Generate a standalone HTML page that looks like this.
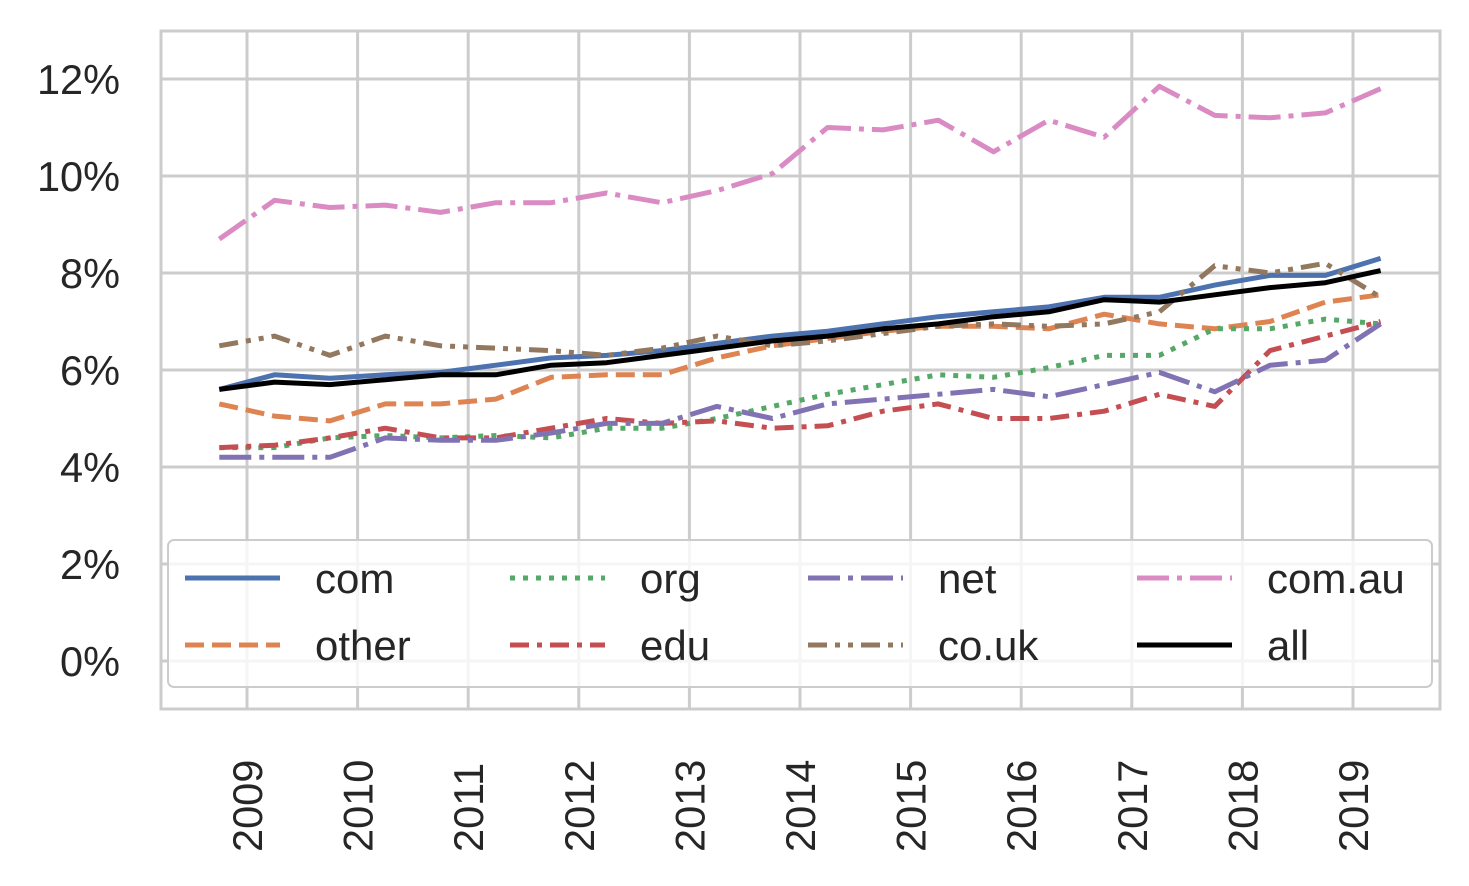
<!DOCTYPE html>
<html><head><meta charset="utf-8"><style>
body{margin:0;background:#fff}
svg text{font-family:"Liberation Sans",sans-serif;fill:#262626}
</style></head><body>
<svg id="chart" width="1469" height="881" xmlns="http://www.w3.org/2000/svg">
<g id="grid"></g>
<g id="series"></g>
<rect x="161" y="31" width="1279" height="678" fill="none" stroke="#cccccc" stroke-width="3"/>
<g id="ticks"></g>
<g id="legend"></g>
</svg>
<script>
const xValues=[2008.75,2009.25,2009.75,2010.25,2010.75,2011.25,2011.75,2012.25,2012.75,2013.25,2013.75,2014.25,2014.75,2015.25,2015.75,2016.25,2016.75,2017.25,2017.75,2018.25,2018.75,2019.25];
const xTicks=[2009,2010,2011,2012,2013,2014,2015,2016,2017,2018,2019];
const yTicks=[0,2,4,6,8,10,12];
const seriesNames=["com","other","org","edu","net","co.uk","com.au","all"];
const com=[5.6,5.9,5.83,5.9,5.95,6.1,6.25,6.3,6.4,6.55,6.7,6.8,6.95,7.1,7.2,7.3,7.5,7.5,7.75,7.95,7.95,8.3];
const other=[5.3,5.05,4.95,5.3,5.3,5.4,5.85,5.9,5.9,6.25,6.5,6.65,6.8,6.9,6.9,6.85,7.15,6.95,6.85,7.0,7.4,7.55];
const org=[4.4,4.4,4.6,4.65,4.6,4.65,4.6,4.8,4.8,5.0,5.25,5.5,5.7,5.9,5.85,6.05,6.3,6.3,6.85,6.85,7.05,6.95];
const edu=[4.4,4.45,4.6,4.8,4.6,4.6,4.8,5.0,4.9,4.95,4.8,4.85,5.15,5.3,5.0,5.0,5.15,5.5,5.25,6.4,6.7,7.0];
const net=[4.2,4.2,4.2,4.6,4.55,4.55,4.7,4.9,4.9,5.25,5.0,5.3,5.4,5.5,5.6,5.45,5.7,5.95,5.55,6.1,6.2,6.95];
const couk=[6.5,6.7,6.3,6.7,6.5,6.45,6.4,6.3,6.45,6.7,6.5,6.6,6.75,6.9,6.95,6.9,6.95,7.2,8.15,8.0,8.2,7.5];
const comau=[8.7,9.5,9.35,9.4,9.25,9.45,9.45,9.65,9.45,9.7,10.05,11.0,10.95,11.15,10.5,11.15,10.8,11.85,11.25,11.2,11.3,11.8];
const all=[5.6,5.75,5.7,5.8,5.9,5.9,6.1,6.15,6.3,6.45,6.6,6.7,6.85,6.95,7.1,7.2,7.45,7.4,7.55,7.7,7.8,8.05];

const NS="http://www.w3.org/2000/svg";
function X(v){return 247+(v-2009)*110.6;}
function Y(v){return 661-v*48.5;}
function mk(tag,parent,attrs){const e=document.createElementNS(NS,tag);for(const k in attrs)e.setAttribute(k,attrs[k]);parent.appendChild(e);return e;}
const grid=document.getElementById('grid'),ticks=document.getElementById('ticks'),sg=document.getElementById('series'),lg=document.getElementById('legend');
xTicks.forEach(t=>{
 const l=mk('line',grid,{x1:X(t),x2:X(t),y1:31,y2:709,stroke:'#cccccc','stroke-width':3});
 
 
 const tx=mk('text',ticks,{transform:`translate(${X(t)+15},852) rotate(-90)`,'font-size':41.5});
 tx.textContent=t;
 
 
});
yTicks.forEach(t=>{
 const l=mk('line',grid,{x1:161,x2:1440,y1:Y(t),y2:Y(t),stroke:'#cccccc','stroke-width':3});
 
 
 const tx=mk('text',ticks,{x:120,y:Y(t)+15,'font-size':41.5,'text-anchor':'end'});
 tx.textContent=t+'%';
 
 
});
const styles=[
 ['#4c72b0','',com],['#dd8452','19,8',other],['#55a868','5,8',org],['#c44e52','19,8,5,8',edu],
 ['#8172b3','32,8,5,8',net],['#937860','19,8,5,8,5,8',couk],['#da8bc3','32,8,5,8',comau],['#000000','',all]];
styles.forEach((s,i)=>{
 const d=s[2].map((v,j)=>(j?'L':'M')+X(xValues[j]).toFixed(1)+','+Y(v).toFixed(1)).join(' ');
 const p=mk('path',sg,{d:d,fill:'none',stroke:s[0],'stroke-width':5,'stroke-dasharray':s[1]||'none','stroke-linejoin':'round'});
 
 
});
const box=mk('rect',lg,{x:168,y:540,width:1264,height:147,rx:6,fill:'rgba(255,255,255,0.8)',stroke:'#cccccc','stroke-width':2});


const order=[0,2,4,6,1,3,5,7];
const colX=[185,510,808,1137];
order.forEach((si,k)=>{
 const col=k%4,row=Math.floor(k/4);
 const y=578+row*67,x=colX[col];
 const s=styles[si];
 const l=mk('line',lg,{x1:x,x2:x+95,y1:y,y2:y,stroke:s[0],'stroke-width':5,'stroke-dasharray':s[1]||'none'});
 
 
 const t=mk('text',lg,{x:x+130,y:y+15,'font-size':42});
 t.textContent=seriesNames[si];
 
 
});
</script>
</body></html>
